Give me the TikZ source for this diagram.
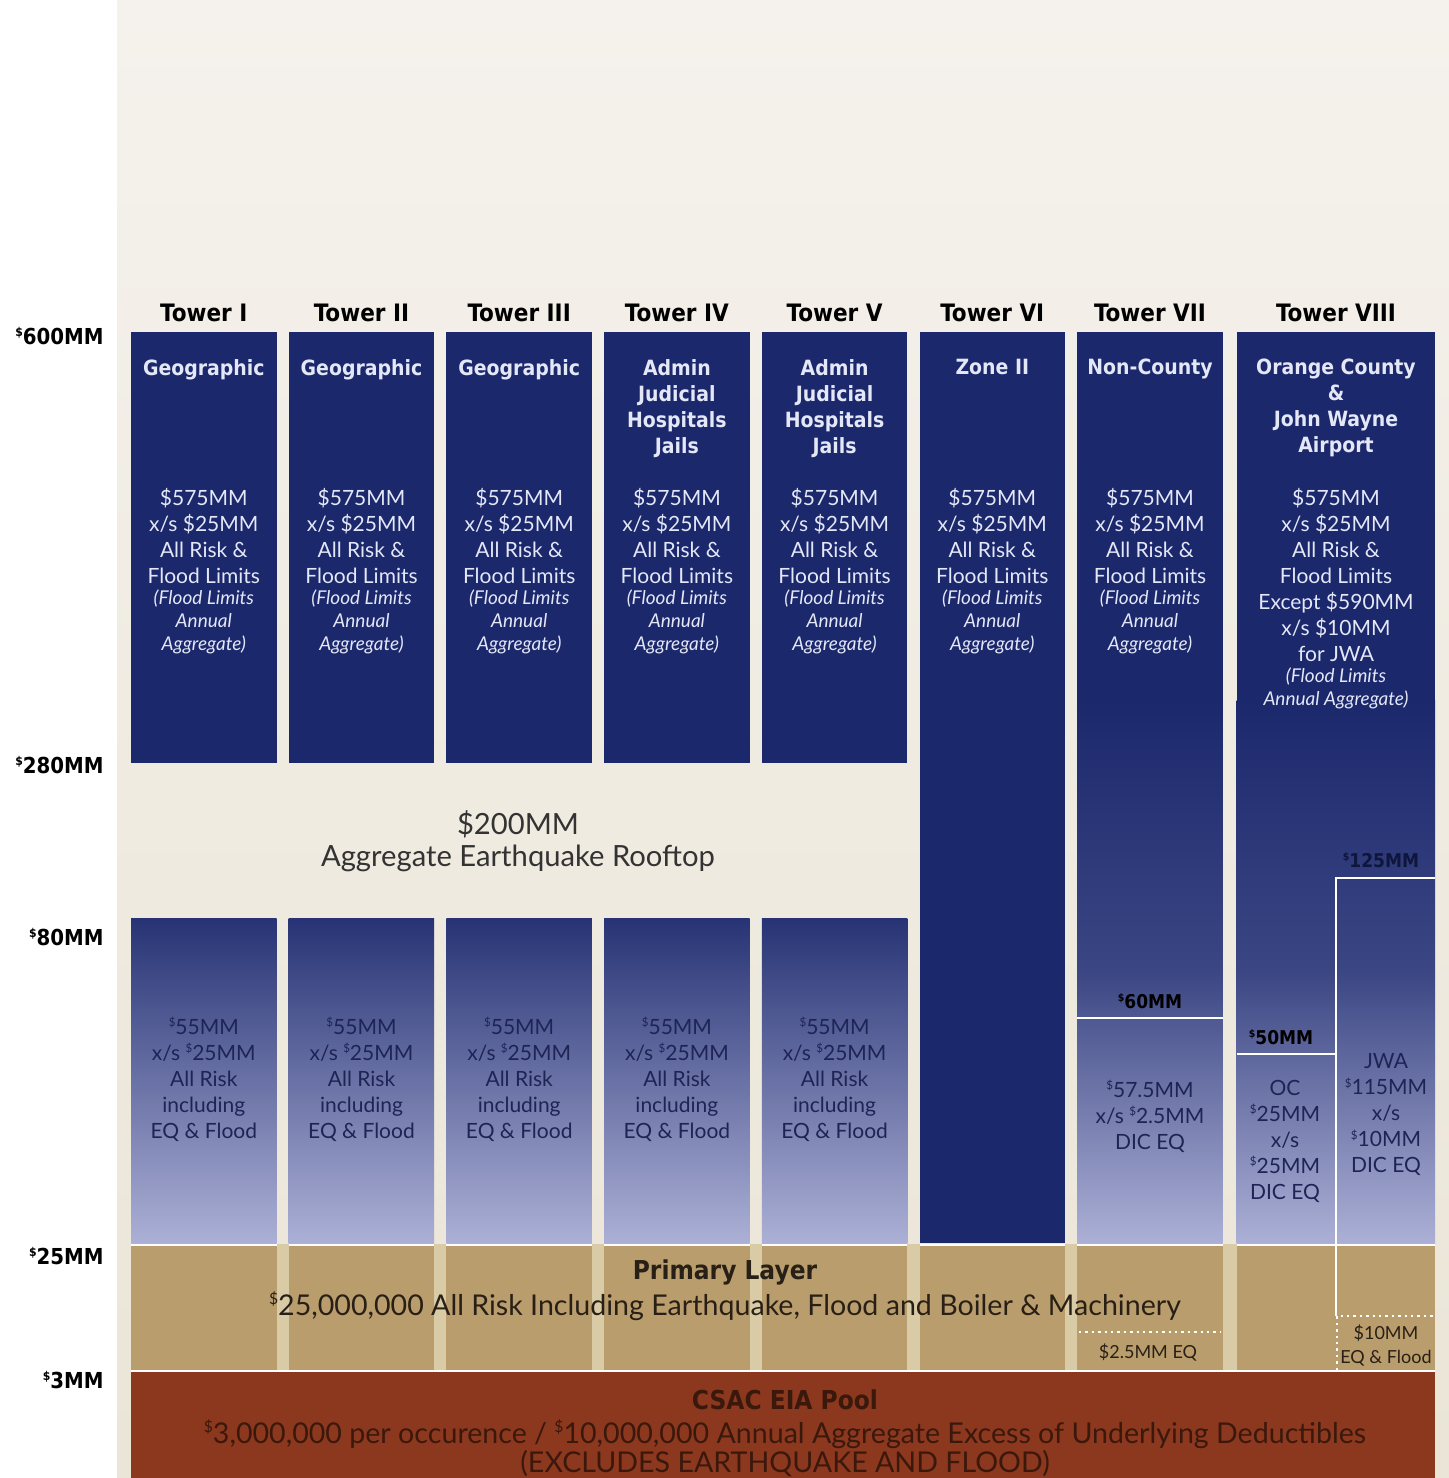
\documentclass[tikz,border=0pt]{standalone}
\usepackage{graphicx}
\usepackage{fontspec}
\setmainfont{Lato}
\newfontfamily\headfont{DejaVu Sans Condensed}
\usetikzlibrary{positioning}

\definecolor{navy}{RGB}{27,40,108}
\definecolor{lavender}{RGB}{172,176,214}
\definecolor{cream}{RGB}{234,229,214}
\definecolor{creamtop}{RGB}{245,242,237}
\definecolor{tan}{RGB}{186,157,108}
\definecolor{tangap}{RGB}{216,203,166}
\definecolor{rust}{RGB}{140,56,30}
\definecolor{pale}{RGB}{228,231,246}
\definecolor{ink}{RGB}{30,36,84}
\definecolor{rustink}{RGB}{58,24,12}
\definecolor{tanink}{RGB}{40,32,22}

% small raised dollar sign
\newcommand{\sdol}{\raisebox{0.38em}{\scalebox{0.55}{\$}}}

\tikzstyle{limit}=[anchor=east,inner sep=0pt,font=\headfont\bfseries\fontsize{11}{13}\selectfont]
\tikzstyle{towername}=[inner sep=0pt,font=\headfont\bfseries\fontsize{12}{14}\selectfont]
\tikzstyle{boxhead}=[anchor=north,align=center,inner sep=0pt,text=pale,
  font=\headfont\bfseries\fontsize{10.5}{13}\selectfont]
\tikzstyle{boxbody}=[anchor=north,align=center,inner sep=0pt,text=pale,
  font=\fontsize{10.5}{13}\selectfont]
\tikzstyle{boxnote}=[anchor=north,align=center,inner sep=0pt,text=pale,
  font=\itshape\fontsize{9.5}{11.5}\selectfont]
\tikzstyle{lowbody}=[align=center,inner sep=0pt,text=ink,font=\fontsize{10.5}{13}\selectfont]
\tikzstyle{attach}=[inner sep=0pt,text=black,font=\headfont\bfseries\fontsize{9.5}{11}\selectfont]
\tikzstyle{layertitle}=[inner sep=0pt,font=\headfont\bfseries\fontsize{13}{15}\selectfont]
\tikzstyle{layertext}=[inner sep=0pt,font=\fontsize{14.3}{16}\selectfont]
\tikzstyle{small}=[align=center,inner sep=0pt,text=tanink,font=\fontsize{9}{12}\selectfont]
\tikzstyle{divider}=[white,line width=1.2pt]
\tikzstyle{dotline}=[white,line width=1.2pt,dotted]

\begin{document}
\begin{tikzpicture}[x=0.5pt,y=-0.5pt]
  \useasboundingbox (0,0) rectangle (1449,1478);
  \fill[white] (0,0) rectangle (1449,1478);
  \shade[top color=creamtop,bottom color=cream] (117,0) rectangle (1449,1478);

  % towers I to V: upper and lower layers
  \foreach \k in {0,...,4} {
    \pgfmathsetmacro\xl{131+157.7*\k}
    \fill[navy] (\xl,332) rectangle ++(145.5,431);
    \shade[top color=navy!92!lavender,bottom color=lavender] (\xl,918) rectangle ++(145.5,325);
  }
  % tower VI
  \fill[navy] (919.5,332) rectangle (1065,1243);
  % towers VII and VIII fade out towards the primary layer
  \foreach \xl/\xr in {1077.2/1222.7,1236.5/1435} {
    \fill[navy] (\xl,332) rectangle (\xr,702);
    \shade[top color=navy,bottom color=lavender,middle color=navy!78!lavender]
      (\xl,700) rectangle (\xr,1243);
  }
  \draw[divider] (1077.2,1018) -- (1222.7,1018);
  \draw[divider] (1236.5,1054) -- (1336,1054);
  \draw[divider] (1336,1316) -- (1336,878) -- (1435,878);

  % primary layer
  \fill[tangap] (131,1244) rectangle (1435,1371);
  \foreach \k in {0,...,6} {
    \pgfmathsetmacro\xl{131+157.7*\k}
    \fill[tan] (\xl,1245) rectangle ++(145.5,125);
    \draw[white,line width=0.8pt] (\xl,1245) -- ++(145.5,0);
  }
  \fill[tan] (1236.5,1245) rectangle (1435,1370);
  \draw[white,line width=0.8pt] (1236.5,1245) -- (1435,1245);
  \draw[divider] (1336,1245) -- (1336,1316);
  \draw[dotline] (1079,1332) -- (1221,1332);
  \draw[dotline] (1337,1370) -- (1337,1316) -- (1435,1316);

  % pool
  \draw[white,line width=0.8pt] (131,1371) -- (1435,1371);
  \fill[rust] (131,1372) rectangle (1435,1478);

  % limits
  \node[limit] (l600) at (104,336) {\sdol600MM};
  \node[limit] (l280) at (104,765) {\sdol280MM};
  \node[limit] (l80) at (104,937) {\sdol80MM};
  \node[limit] (l25) at (104,1256) {\sdol25MM};
  \node[limit] (l3) at (104,1380) {\sdol3MM};

  % tower texts
  \foreach \name/\head [count=\k from 0] in {I/Geographic,II/Geographic,III/Geographic,
      IV/{Admin\\Judicial\\Hospitals\\Jails},V/{Admin\\Judicial\\Hospitals\\Jails},
      VI/Zone II,VII/Non-County} {
    \pgfmathsetmacro\xc{203.8+157.7*\k}
    \node[towername] (tower\k) at (\xc,313) {Tower \name};
    \node[boxhead] (head\k) at (\xc,359) {\head};
    \node[boxbody] (body\k) at (\xc,488) {\$575MM\\x/s \$25MM\\All Risk \&\\Flood Limits};
    \node[boxnote] (note\k) at (\xc,589) {(Flood Limits\\Annual\\Aggregate)};
  }
  \node[towername] (tower7) at (1336,313) {Tower VIII};
  \node[boxhead] (head7) at (1336,359) {Orange County\\\&\\John Wayne\\Airport};
  \node[boxbody] (body7) at (1336,488)
    {\$575MM\\x/s \$25MM\\All Risk \&\\Flood Limits\\Except \$590MM\\x/s \$10MM\\for JWA};
  \node[boxnote] (note7) at (1336,667) {(Flood Limits\\Annual Aggregate)};

  % rooftop
  \node[align=center,inner sep=0pt,text=black!80,font=\fontsize{14.6}{16}\selectfont]
    (rooftop) at (518,841) {\$200MM\\Aggregate Earthquake Rooftop};

  % lower layer
  \foreach \k in {0,...,4} {
    \pgfmathsetmacro\xc{203.8+157.7*\k}
    \node[lowbody] (low\k) at (\xc,1079) {\sdol55MM\\x/s \sdol25MM\\All Risk\\including\\EQ \& Flood};
  }
  \node[attach] (att60) at (1150,1001) {\sdol60MM};
  \node[attach] (att50) at (1281,1037) {\sdol50MM};
  \node[attach,text=navy!55!black] (att125) at (1381,860) {\sdol125MM};
  \node[lowbody] (low6) at (1150,1116) {\sdol57.5MM\\x/s \sdol2.5MM\\DIC EQ};
  \node[lowbody] (low7) at (1285,1141) {OC\\\sdol25MM\\x/s\\\sdol25MM\\DIC EQ};
  \node[lowbody] (low8) at (1386,1115) {JWA\\\sdol115MM\\x/s\\\sdol10MM\\DIC EQ};

  % primary layer texts
  \node[layertitle,text=tanink] (primary) at (725,1272) {Primary Layer};
  \node[layertext,text=tanink] (primarytext) at (725,1306)
    {\sdol25,000,000 All Risk Including Earthquake, Flood and Boiler \& Machinery};
  \node[small] (eq7) at (1148,1352) {\$2.5MM EQ};
  \node[small] (eq8) at (1386,1345) {\$10MM\\EQ \& Flood};

  % pool texts
  \node[layertitle,text=rustink] (pool) at (785,1400) {CSAC EIA Pool};
  \node[layertext,text=rustink] (pooltext) at (785,1434)
    {\sdol3,000,000 per occurence / \sdol10,000,000 Annual Aggregate Excess of Underlying Deductibles};
  \node[layertext,text=rustink] (poolnote) at (785,1464) {(EXCLUDES EARTHQUAKE AND FLOOD)};
\end{tikzpicture}
\end{document}
